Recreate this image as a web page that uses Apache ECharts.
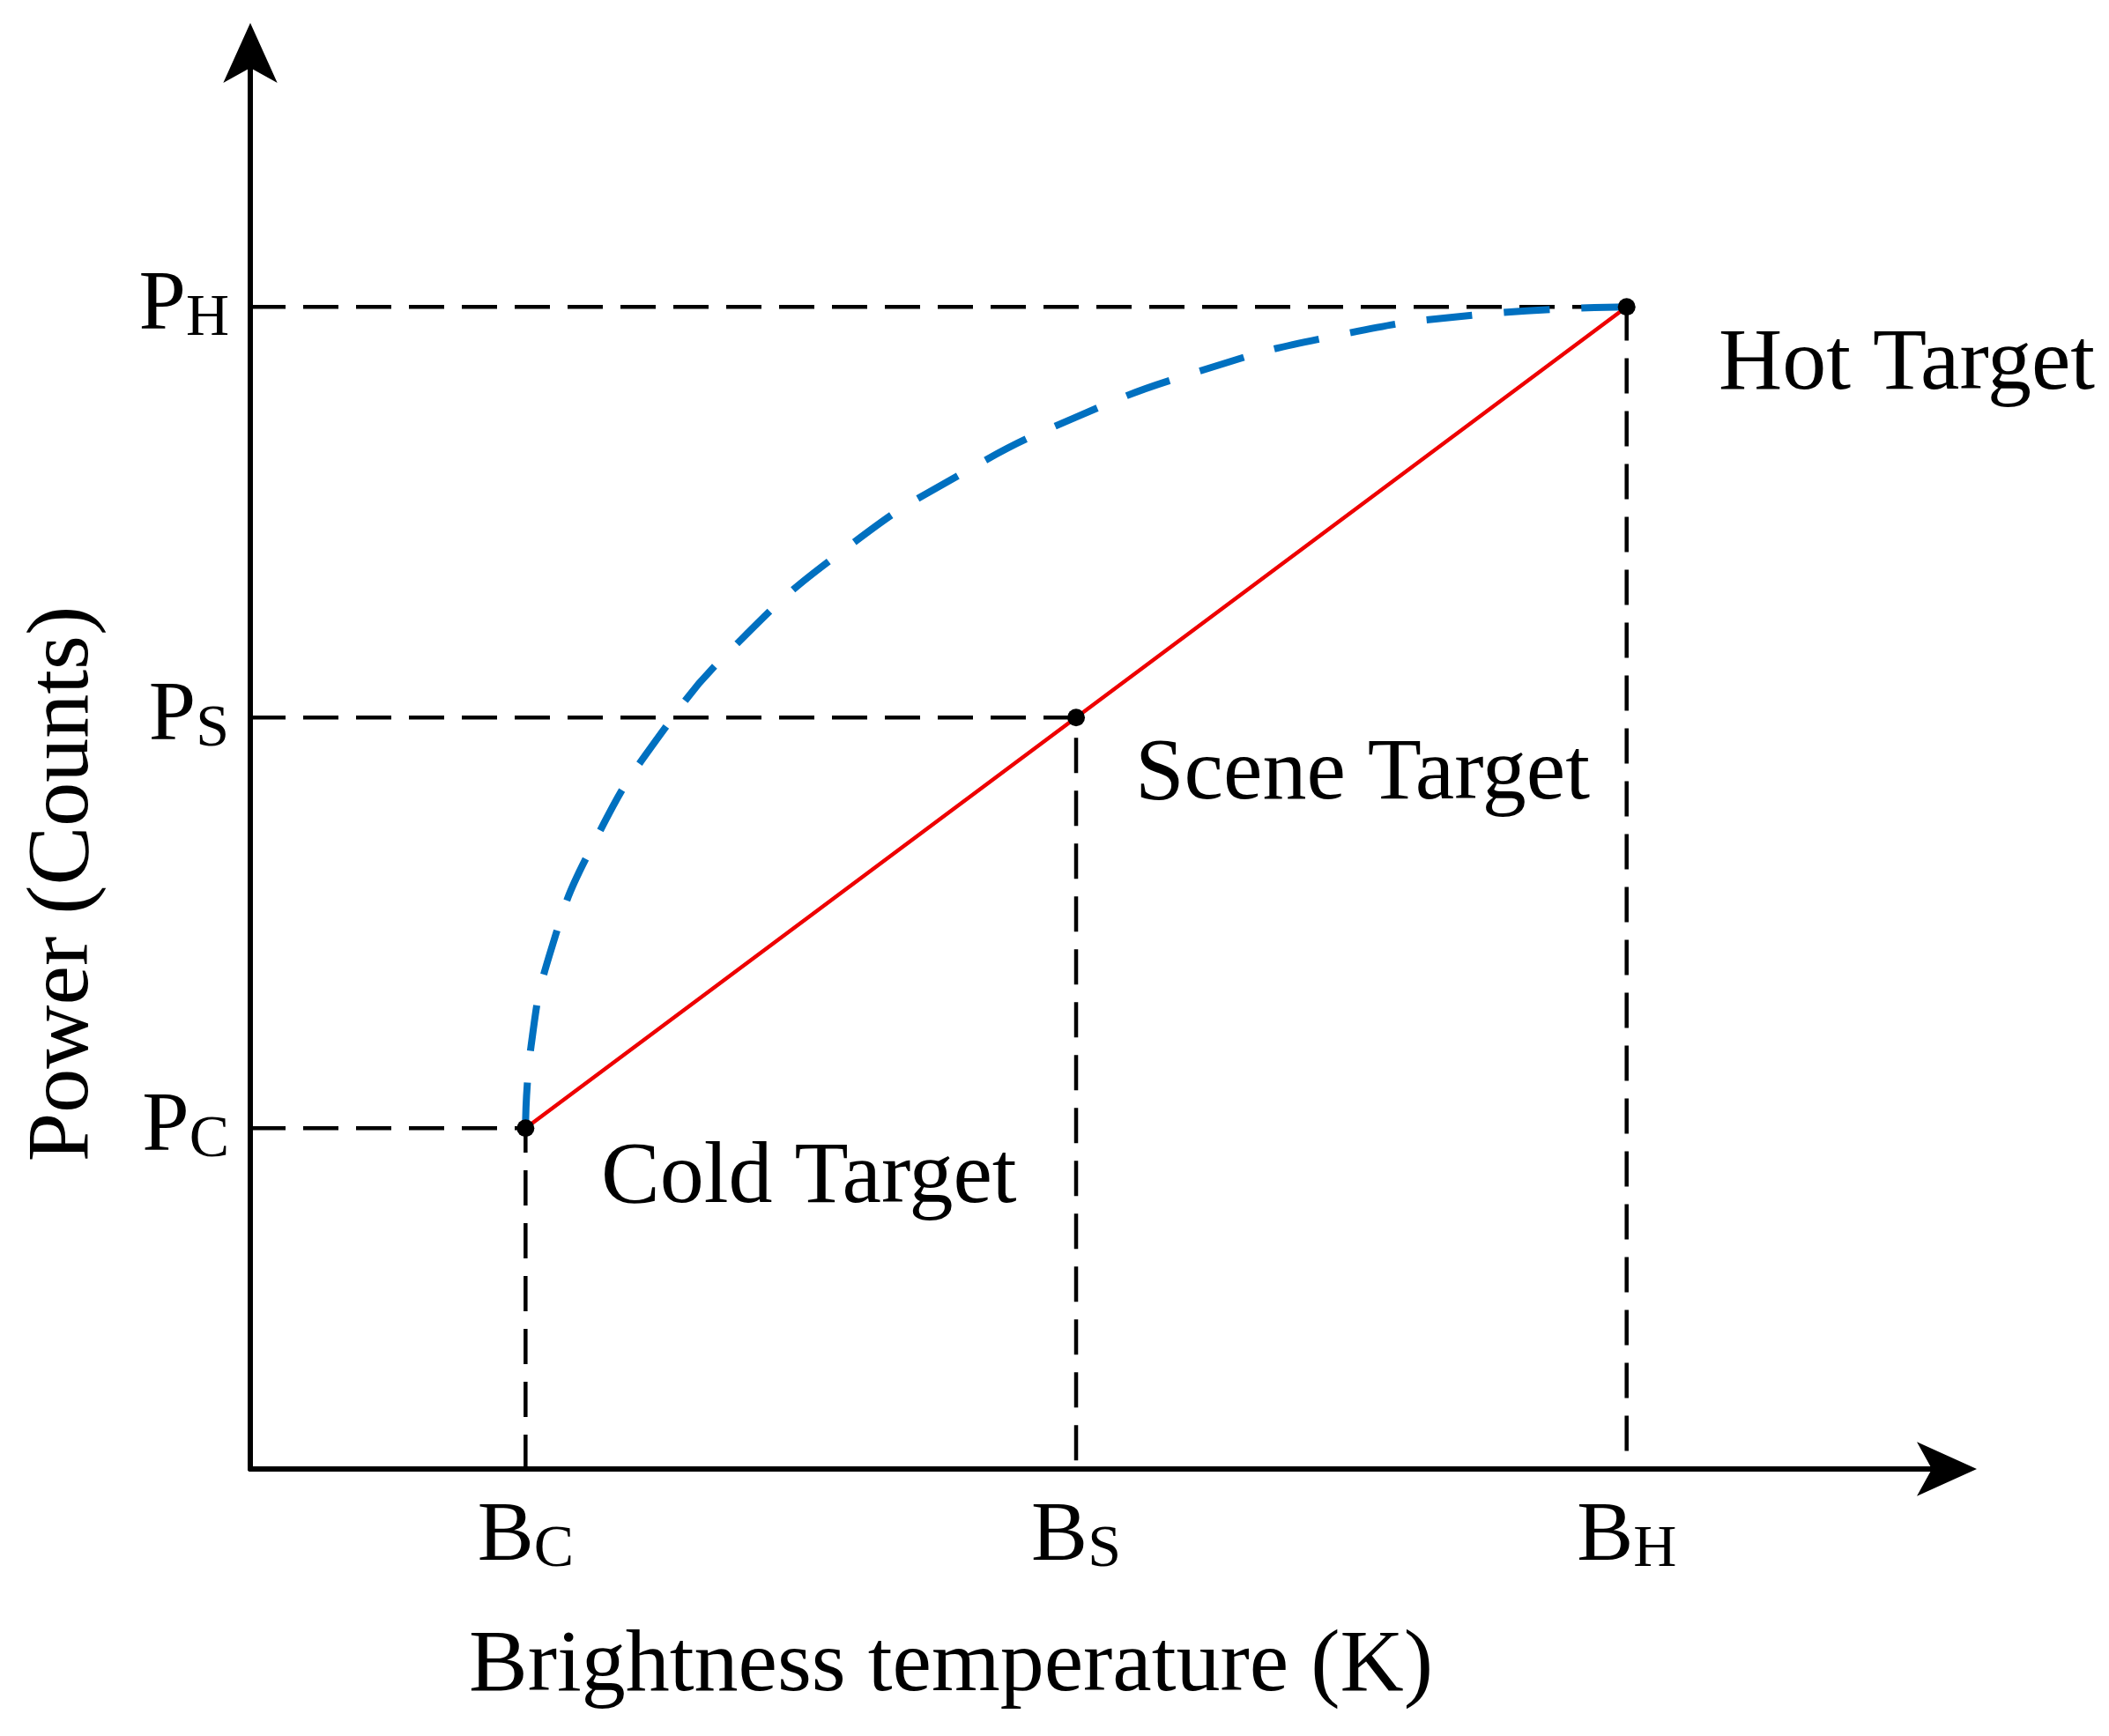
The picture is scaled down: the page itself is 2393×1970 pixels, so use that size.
<!DOCTYPE html>
<html>
<head>
<meta charset="utf-8">
<script src="https://cdn.jsdelivr.net/npm/echarts@6/dist/echarts.min.js"></script>
<style>html,body{margin:0;padding:0;background:#fff}#main{width:2393px;height:1970px}</style>
</head>
<body>
<div id="main"></div>
<script>
// tick positions and labels
var xTicks = [1, 2, 3];
var xTickMain = ['B', 'B', 'B'];
var xTickSub = ['C', 'S', 'H'];
var yTicks = [1, 2, 3];
var yTickMain = ['P', 'P', 'P'];
var yTickSub = ['C', 'S', 'H'];

// calibration points: cold, scene, hot
var pointX = [1, 2, 3];
var pointY = [1, 2, 3];
var pointNames = ['Cold Target', 'Scene Target', 'Hot Target'];

// nonlinear response
var curveX = [1, 1.01, 1.049, 1.123, 1.246, 1.394, 1.59, 1.787, 1.999, 2.23, 2.476, 2.722, 3];
var curveY = [1, 1.2, 1.446, 1.692, 1.961, 2.193, 2.42, 2.59, 2.731, 2.846, 2.931, 2.98, 3];

var xMin = 0.5, xMax = 3.62, yMin = 0.17, yMax = 3.67;

var font = '"Liberation Serif", "DejaVu Serif", serif';
var chart = echarts.init(document.getElementById('main'));

function zip(a, b) { return a.map(function (v, i) { return [v, b[i]]; }); }

var guides = [];
for (var i = 0; i < pointX.length; i++) {
  guides.push({
    type: 'line', silent: true, symbol: 'none',
    lineStyle: { color: '#000', width: 4.5, type: [40, 20] },
    data: [[xMin, pointY[i]], [pointX[i], pointY[i]], [pointX[i], yMin]],
    z: 1
  });
}

function lbl(main, sub) {
  return function (v) {
    var k = Math.round(v) - 1;
    return '{a|' + main[k] + '}{b|' + sub[k] + '}';
  };
}
var rich = { a: { fontFamily: font, fontSize: 96, color: '#000' }, b: { fontFamily: font, fontSize: 68, color: '#000', verticalAlign: 'bottom' } };

var option = {
  animation: false,
  grid: { left: 284, right: 160, top: 36, bottom: 303 },
  xAxis: {
    type: 'value', min: xMin, max: xMax,
    axisLine: { lineStyle: { color: '#000', width: 6 }, symbol: ['none', 'arrow'], symbolSize: [46, 68], symbolOffset: [0, 10] },
    axisTick: { show: false },
    splitLine: { show: false },
    axisLabel: { customValues: xTicks, margin: 30, formatter: lbl(xTickMain, xTickSub), rich: rich }
  },
  yAxis: {
    type: 'value', min: yMin, max: yMax,
    axisLine: { lineStyle: { color: '#000', width: 6 }, symbol: ['none', 'arrow'], symbolSize: [46, 68], symbolOffset: [0, 10] },
    axisTick: { show: false },
    splitLine: { show: false },
    axisLabel: { customValues: yTicks, margin: 24, formatter: lbl(yTickMain, yTickSub), rich: rich }
  },
  series: guides.concat([
    {
      type: 'line', symbol: 'none', smooth: true, z: 3,
      lineStyle: { color: '#0070C0', width: 8, type: [52, 36] },
      data: zip(curveX, curveY)
    },
    {
      type: 'line', symbol: 'circle', symbolSize: 20, z: 4,
      itemStyle: { color: '#000' },
      lineStyle: { color: '#ee0000', width: 4.5 },
      data: zip(pointX, pointY)
    }
  ]),
  graphic: [
    { type: 'text', left: 1950, top: 365, style: { text: pointNames[2], font: '100px ' + font, fill: '#000' } },
    { type: 'text', left: 1288, top: 830, style: { text: pointNames[1], font: '100px ' + font, fill: '#000' } },
    { type: 'text', left: 682, top: 1288, style: { text: pointNames[0], font: '100px ' + font, fill: '#000' } },
    { type: 'text', x: 1079, y: 1892, style: { text: 'Brightness temperature (K)', font: '100px ' + font, fill: '#000', textAlign: 'center', textVerticalAlign: 'middle' } },
    { type: 'text', x: 73, y: 1003, rotation: Math.PI / 2, style: { text: 'Power (Counts)', font: '100px ' + font, fill: '#000', textAlign: 'center', textVerticalAlign: 'middle' } }
  ]
};
chart.setOption(option);
</script>
</body>
</html>
